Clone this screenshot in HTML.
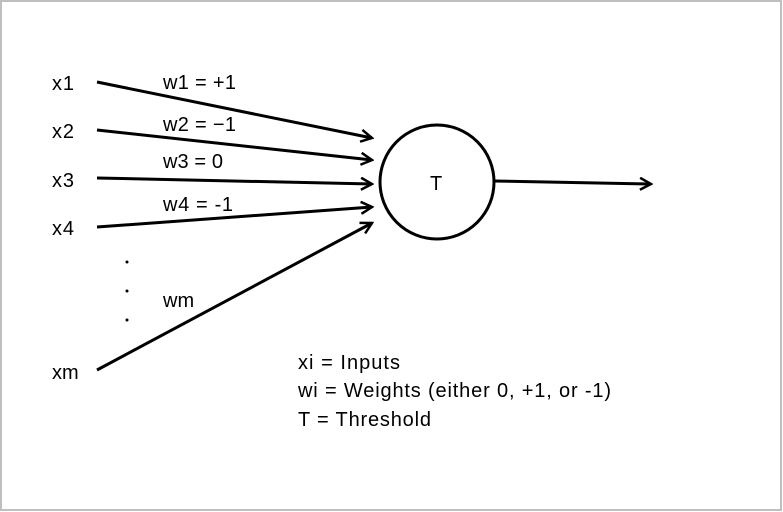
<!DOCTYPE html>
<html><head><style>
body{margin:0;background:#fff}
svg{display:block}
text{font-family:"Liberation Sans",sans-serif;font-size:20px;fill:#000}
</style></head><body>
<svg width="783" height="512" viewBox="0 0 783 512">
<rect x="1" y="1" width="780" height="509" fill="#fff" stroke="#bfbfbf" stroke-width="2"/>
<defs><marker id="a" markerWidth="14" markerHeight="14" refX="12" refY="7" orient="auto" markerUnits="userSpaceOnUse"><path d="M1,1 L12,7 L1,13" fill="none" stroke="#000" stroke-width="2.5"/></marker></defs>
<g stroke="#000" stroke-width="3" fill="none">
<line x1="97" y1="82" x2="372" y2="138" marker-end="url(#a)"/>
<line x1="97" y1="130" x2="372" y2="160" marker-end="url(#a)"/>
<line x1="97" y1="178" x2="372" y2="184" marker-end="url(#a)"/>
<line x1="97" y1="227" x2="372" y2="207" marker-end="url(#a)"/>
<line x1="97" y1="370" x2="372" y2="223" marker-end="url(#a)"/>
<line x1="494" y1="181" x2="651" y2="184" marker-end="url(#a)"/>
<circle cx="437" cy="182" r="57" stroke-width="3"/>
</g>
<text x="52" y="90" textLength="22">x1</text>
<text x="52" y="138" textLength="22">x2</text>
<text x="52" y="187" textLength="22">x3</text>
<text x="52" y="235" textLength="22">x4</text>
<text x="52" y="379">xm</text>
<text x="163" y="89" textLength="73">w1 = +1</text>
<text x="163" y="131" textLength="73">w2 = −1</text>
<text x="163" y="168" textLength="60">w3 = 0</text>
<text x="163" y="211" textLength="70">w4 = -1</text>
<text x="163" y="307">wm</text>
<circle cx="127" cy="262" r="1.5"/>
<circle cx="127" cy="291" r="1.5"/>
<circle cx="127" cy="320" r="1.5"/>
<text x="430" y="190">T</text>
<text x="298" y="369" textLength="102">xi = Inputs</text>
<text x="298" y="397" textLength="313">wi = Weights (either 0, +1, or -1)</text>
<text x="298" y="426" textLength="133">T = Threshold</text>
</svg>
</body></html>
